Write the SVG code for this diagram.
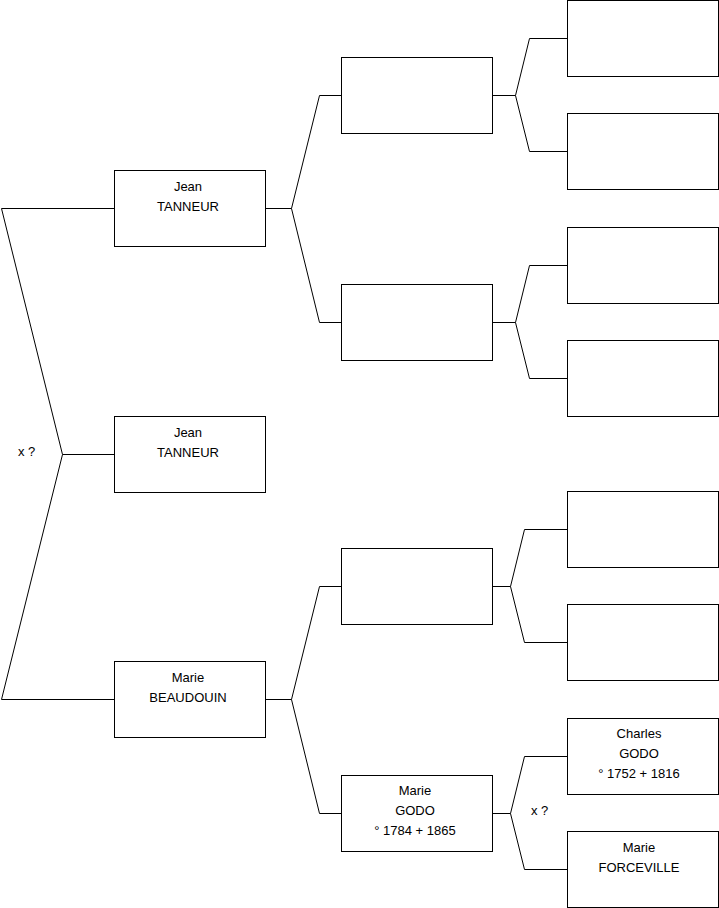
<svg xmlns="http://www.w3.org/2000/svg" width="719" height="908" viewBox="0 0 719 908">
<style>
.box{fill:#fff;stroke:#000;stroke-width:1}
.c{fill:none;stroke:#000;stroke-width:1}
text{font-family:"Liberation Sans",Arial,Helvetica,sans-serif;font-size:13px;fill:#000}
.m{text-anchor:middle}
</style>
<rect width="719" height="908" fill="#fff"/>
<g id="connectors">
<polyline class="c" points="114,208.5 1.5,208.5 62.5,454.5 1.5,699.5 114,699.5"/>
<line class="c" x1="62.5" y1="454.5" x2="114" y2="454.5"/>
<polyline class="c" points="341,95.5 319.5,95.5 291.5,208.5 319.5,322.5 341,322.5"/>
<line class="c" x1="265" y1="208.5" x2="291.5" y2="208.5"/>
<polyline class="c" points="341,586.5 319.5,586.5 291.5,699.5 319.5,813.5 341,813.5"/>
<line class="c" x1="265" y1="699.5" x2="291.5" y2="699.5"/>
<polyline class="c" points="567,38.5 529.5,38.5 515.5,95.5 529.5,151.5 567,151.5"/>
<line class="c" x1="492" y1="95.5" x2="515.5" y2="95.5"/>
<polyline class="c" points="567,265.5 529.5,265.5 515.5,322.5 529.5,378.5 567,378.5"/>
<line class="c" x1="492" y1="322.5" x2="515.5" y2="322.5"/>
<polyline class="c" points="567,529.5 524.5,529.5 510.5,586.5 524.5,642.5 567,642.5"/>
<line class="c" x1="492" y1="586.5" x2="510.5" y2="586.5"/>
<polyline class="c" points="567,756.5 524.5,756.5 510.5,813.5 524.5,869.5 567,869.5"/>
<line class="c" x1="492" y1="813.5" x2="510.5" y2="813.5"/>
<text x="18" y="456">x ?</text>
<text x="531" y="815">x ?</text>
</g>
<g id="p1"><rect class="box" x="114.5" y="170.5" width="151" height="76"/><text class="m" x="188" y="191">Jean</text><text class="m" x="188" y="211">TANNEUR</text></g>
<g id="p0"><rect class="box" x="114.5" y="416.5" width="151" height="76"/><text class="m" x="188" y="437">Jean</text><text class="m" x="188" y="457">TANNEUR</text></g>
<g id="p2"><rect class="box" x="114.5" y="661.5" width="151" height="76"/><text class="m" x="188" y="682">Marie</text><text class="m" x="188" y="702">BEAUDOUIN</text></g>
<g id="p3"><rect class="box" x="341.5" y="57.5" width="151" height="76"/></g>
<g id="p4"><rect class="box" x="341.5" y="284.5" width="151" height="76"/></g>
<g id="p5"><rect class="box" x="341.5" y="548.5" width="151" height="76"/></g>
<g id="p6"><rect class="box" x="341.5" y="775.5" width="151" height="76"/><text class="m" x="415" y="795">Marie</text><text class="m" x="415" y="815">GODO</text><text class="m" x="415" y="835">° 1784 + 1865</text></g>
<g id="p7"><rect class="box" x="567.5" y="0.5" width="151" height="76"/></g>
<g id="p8"><rect class="box" x="567.5" y="113.5" width="151" height="76"/></g>
<g id="p9"><rect class="box" x="567.5" y="227.5" width="151" height="76"/></g>
<g id="p10"><rect class="box" x="567.5" y="340.5" width="151" height="76"/></g>
<g id="p11"><rect class="box" x="567.5" y="491.5" width="151" height="76"/></g>
<g id="p12"><rect class="box" x="567.5" y="604.5" width="151" height="76"/></g>
<g id="p13"><rect class="box" x="567.5" y="718.5" width="151" height="76"/><text class="m" x="639" y="738">Charles</text><text class="m" x="639" y="758">GODO</text><text class="m" x="639" y="778">° 1752 + 1816</text></g>
<g id="p14"><rect class="box" x="567.5" y="831.5" width="151" height="76"/><text class="m" x="639" y="852">Marie</text><text class="m" x="639" y="872">FORCEVILLE</text></g>
</svg>
